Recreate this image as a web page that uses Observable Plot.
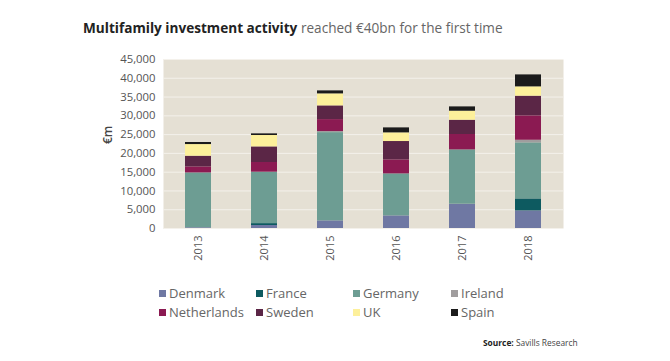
<!DOCTYPE html>
<html>
<head>
<meta charset="utf-8">
<script src="https://cdn.jsdelivr.net/npm/d3@7"></script>
<script src="https://cdn.jsdelivr.net/npm/@observablehq/plot@0.6"></script>
<style>
  html, body { margin: 0; padding: 0; background: #fff; }
  #wrap { position: relative; width: 670px; height: 361px; font-family: "Open Sans", sans-serif; color: #555; }
  #title { position: absolute; left: 83px; top: 18px; font-size: 13.6px; white-space: nowrap; color: #666; }
  #title b { color: #222; font-weight: 700; }
  #legend { position: absolute; left: 159px; top: 284px; font-size: 13px; color: #666; }
  .item { position: absolute; white-space: nowrap; line-height: 18px; }
  .sw { display: inline-block; width: 7px; height: 7px; margin-right: 3px; vertical-align: 1px; }
  #source { position: absolute; left: 483px; top: 337px; font-size: 8.4px; color: #444; white-space: nowrap; }
  #source b { color: #222; }
  #chart { position: absolute; left: 0; top: 0; }
</style>
</head>
<body>
<div id="wrap">
  <div id="chart"></div>
  <div id="title"><b>Multifamily investment activity</b> reached €40bn for the first time</div>
  <div id="legend"></div>
  <div id="source"><b>Source:</b> Savills Research</div>
</div>
<script>
const years = ["2013", "2014", "2015", "2016", "2017", "2018"];
const countries = ["Denmark", "France", "Germany", "Ireland", "Netherlands", "Sweden", "UK", "Spain"];
const colors = ["#6f78a3", "#0d5a60", "#6d9d93", "#a09d9e", "#8b1a52", "#5b2646", "#fdf09b", "#1b1b1b"];
const denmark     = [200, 800, 2030, 3360, 6470, 4690];
const france      = [0, 500, 0, 0, 0, 3190];
const germany     = [14600, 13700, 23500, 11180, 14460, 14920];
const ireland     = [0, 0, 300, 0, 0, 700];
const netherlands = [1600, 2570, 3170, 3730, 4100, 6490];
const sweden      = [2850, 4160, 3650, 4890, 3800, 5240];
const uk          = [3100, 3030, 3190, 2300, 2400, 2480];
const spain       = [550, 440, 800, 1330, 1150, 3190];
const yTicks = [0, 5000, 10000, 15000, 20000, 25000, 30000, 35000, 40000, 45000];

const seriesValues = [denmark, france, germany, ireland, netherlands, sweden, uk, spain];
const table = [];
countries.forEach((c, i) => {
  years.forEach((y, j) => table.push({year: y, country: c, value: seriesValues[i][j]}));
});

const chart = Plot.plot({
  width: 670,
  height: 361,
  marginLeft: 163,
  marginRight: 107,
  marginTop: 59,
  marginBottom: 133,
  style: {fontFamily: "Open Sans, sans-serif", fontSize: "11px", color: "#555", background: "transparent"},
  x: {domain: years, paddingInner: 0.6, paddingOuter: 0.3, label: null},
  y: {domain: [0, 45000], label: null},
  color: {domain: countries, range: colors},
  marks: [
    Plot.frame({fill: "#e5e0d4", stroke: null}),
    Plot.gridY(yTicks, {stroke: "#f4f1eb", strokeOpacity: 1, strokeWidth: 1}),
    Plot.barY(table, {x: "year", y: "value", fill: "country", order: countries}),
    Plot.axisY({ticks: yTicks, tickSize: 0, tickPadding: 8, tickFormat: d3.format(","), label: null, fontSize: 11.3}),
    Plot.axisX({tickSize: 0, tickPadding: 7, tickRotate: -90, label: null, fontSize: 11}),
    Plot.text(["€m"], {frameAnchor: "left", dx: -55, rotate: -90, fontSize: 12, fill: "#444", fontWeight: 600})
  ]
});
document.getElementById("chart").appendChild(chart);

const legend = document.getElementById("legend");
const colX = [0, 97, 194, 292];
countries.forEach((c, i) => {
  const d = document.createElement("div");
  d.className = "item";
  d.style.left = colX[i % 4] + "px";
  d.style.top = (Math.floor(i / 4) * 19) + "px";
  d.innerHTML = `<span class="sw" style="background:${colors[i]}"></span>${c}`;
  legend.appendChild(d);
});
</script>
</body>
</html>
